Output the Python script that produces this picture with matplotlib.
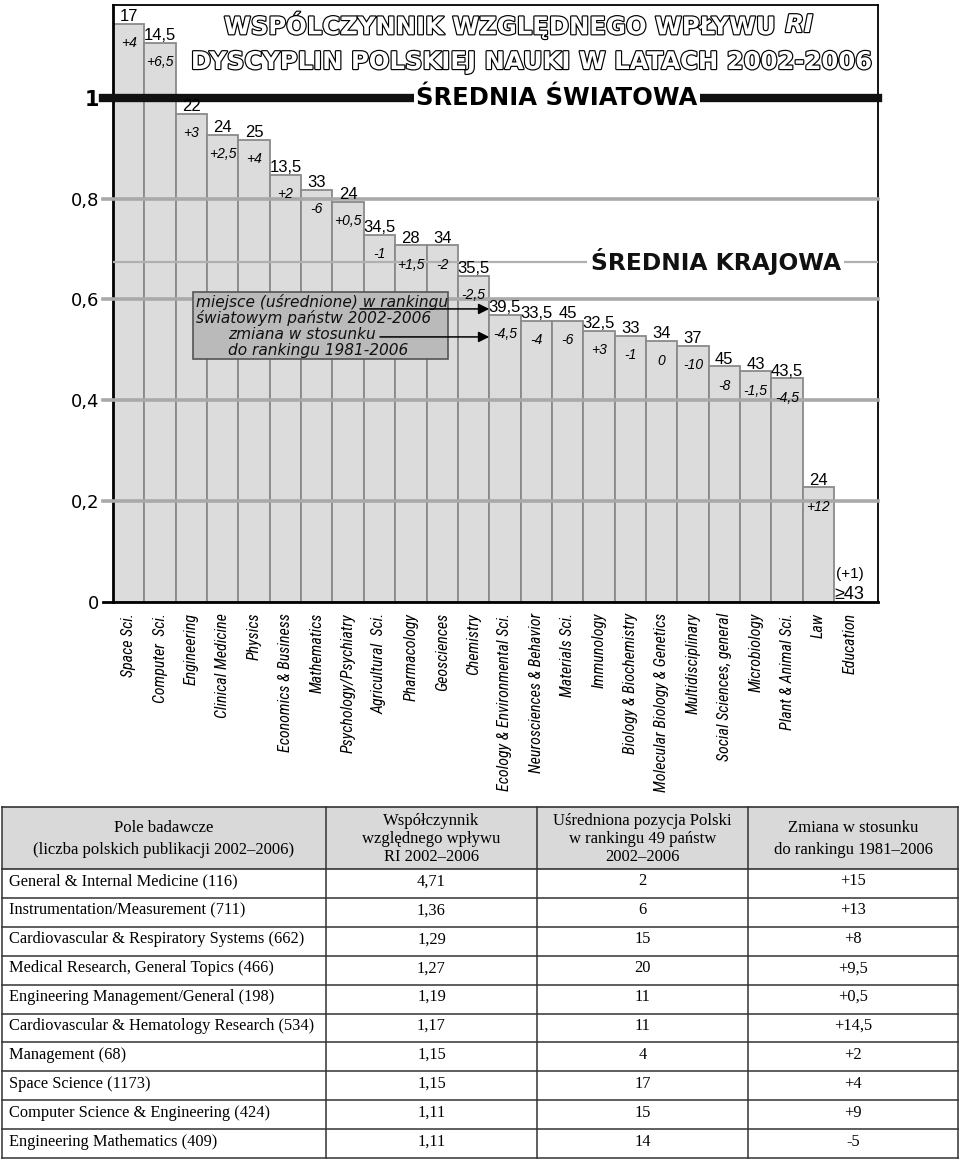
import matplotlib
matplotlib.use('Agg')
import matplotlib.pyplot as plt
import matplotlib.patheffects as pe
from matplotlib.patches import Rectangle
from matplotlib import font_manager
import numpy as np

# ---- wykres: wspolczynnik RI dla dyscyplin ----
disciplines = ['Space Sci.', 'Computer  Sci.', 'Engineering', 'Clinical Medicine', 'Physics',
               'Economics & Business', 'Mathematics', 'Psychology/Psychiatry', 'Agricultural  Sci.',
               'Pharmacology', 'Geosciences', 'Chemistry', 'Ecology & Environmental Sci.',
               'Neurosciences & Behavior', 'Materials Sci.', 'Immunology', 'Biology & Biochemistry',
               'Molecular Biology & Genetics', 'Multidisciplinary', 'Social Sciences, general',
               'Microbiology', 'Plant & Animal Sci.', 'Law', 'Education']
ri_values = [1.147, 1.109, 0.968, 0.926, 0.916, 0.847, 0.817, 0.793, 0.728, 0.707, 0.707, 0.647,
             0.569, 0.557, 0.557, 0.537, 0.528, 0.517, 0.508, 0.467, 0.457, 0.443, 0.227, 0.0]
rank_labels = ['17', '14,5', '22', '24', '25', '13,5', '33', '24', '34,5', '28', '34', '35,5',
               '39,5', '33,5', '45', '32,5', '33', '34', '37', '45', '43', '43,5', '24', '≥43']
change_labels = ['+4', '+6,5', '+3', '+2,5', '+4', '+2', '-6', '+0,5', '-1', '+1,5', '-2', '-2,5',
                 '-4,5', '-4', '-6', '+3', '-1', '0', '-10', '-8', '-1,5', '-4,5', '+12', '(+1)']
y_ticks = [0, 0.2, 0.4, 0.6, 0.8, 1]
y_tick_labels = ['0', '0,2', '0,4', '0,6', '0,8', '1']
world_avg = 1.0
national_avg = 0.675

# ---- tabela ----
table_header = ['Pole badawcze\n(liczba polskich publikacji 2002\u20132006)',
                'Współczynnik\nwzględnego wpływu\nRI 2002\u20132006',
                'Uśredniona pozycja Polski\nw rankingu 49 państw\n2002\u20132006',
                'Zmiana w stosunku\ndo rankingu 1981\u20132006']
table_fields = ['General & Internal Medicine (116)', 'Instrumentation/Measurement (711)',
                'Cardiovascular & Respiratory Systems (662)', 'Medical Research, General Topics (466)',
                'Engineering Management/General (198)', 'Cardiovascular & Hematology Research (534)',
                'Management (68)', 'Space Science (1173)', 'Computer Science & Engineering (424)',
                'Engineering Mathematics (409)']
table_ri = ['4,71', '1,36', '1,29', '1,27', '1,19', '1,17', '1,15', '1,15', '1,11', '1,11']
table_rank = ['2', '6', '15', '20', '11', '11', '4', '17', '15', '14']
table_change = ['+15', '+13', '+8', '+9,5', '+0,5', '+14,5', '+2', '+4', '+9', '-5']

# ---- uklad (piksele) ----
W, H = 960, 1162
ax_left, ax_right, ax_top, ax_bottom = 113, 878, 5, 601.7
px_per_unit = 504
bar_px = 31.35

fig = plt.figure(figsize=(W / 100, H / 100), dpi=100)
fig.patch.set_facecolor('white')
ax = fig.add_axes([ax_left / W, 1 - ax_bottom / H, (ax_right - ax_left) / W, (ax_bottom - ax_top) / H])
ax.set_xlim(-0.5, -0.5 + (ax_right - ax_left) / bar_px)
ax.set_ylim(0, (ax_bottom - ax_top) / px_per_unit)

sans = ['Liberation Sans', 'DejaVu Sans']
wide = ['DejaVu Sans']
# waski krój do podpisow osi x, jesli jest zainstalowany
installed = {f.name for f in font_manager.fontManager.ttflist}
if 'Roboto Condensed' in installed:
    narrow, narrow_size = ['Roboto Condensed', 'Liberation Sans'], 11.5
elif 'Liberation Sans Narrow' in installed:
    narrow, narrow_size = ['Liberation Sans Narrow', 'Liberation Sans'], 11.5
else:
    narrow, narrow_size = ['Liberation Sans', 'DejaVu Sans'], 9.6

x = np.arange(len(disciplines))
ax.bar(x, ri_values, width=1, color='#dcdcdc', edgecolor='#8a8a8a', linewidth=1.3, zorder=2)

# linie siatki z "kreskami" wychodzacymi poza os
ext = -10 / (ax_right - ax_left)
for v in y_ticks[1:-1]:
    ax.axhline(v, xmin=ext, xmax=1, color='#a9a9a9', lw=2.6, clip_on=False, zorder=3)
ax.axhline(0, xmin=ext, xmax=0, color='black', lw=2, clip_on=False, zorder=3)
ax.axhline(national_avg, color='#b0b0b0', lw=1.6, zorder=3)
ax.axhline(world_avg, xmin=ext, xmax=1, color='#111111', lw=6, clip_on=False, zorder=4)

ax.text(0.58, world_avg, 'ŚREDNIA ŚWIATOWA', transform=ax.get_yaxis_transform(),
        ha='center', va='center', fontsize=17.5, fontweight='bold', family=wide, zorder=5,
        bbox=dict(facecolor='white', edgecolor='none', pad=1.5))
ax.text(0.788, national_avg, 'ŚREDNIA KRAJOWA', transform=ax.get_yaxis_transform(),
        ha='center', va='center', fontsize=16.8, fontweight='bold', family=wide, zorder=5,
        color='#111111', bbox=dict(facecolor='white', edgecolor='none', pad=2.5))

# etykiety nad slupkami
for i, (v, r, c) in enumerate(zip(ri_values, rank_labels, change_labels)):
    if v > 0:
        ax.annotate(r, (i, v), xytext=(0, 2), textcoords='offset points', ha='center',
                    va='baseline', fontsize=12, family=sans, zorder=6)
        ax.annotate(c, (i, v), xytext=(0, -14), textcoords='offset points', ha='center',
                    va='center', fontsize=10, style='italic', family=sans, zorder=6)
    else:
        ax.annotate(r, (i, v), xytext=(0, 2), textcoords='offset points', ha='center',
                    va='baseline', fontsize=13, family=sans, zorder=6)
        ax.annotate(c, (i, v), xytext=(0, 17), textcoords='offset points', ha='center',
                    va='baseline', fontsize=11, family=sans, zorder=6)

ax.set_xticks(x, disciplines, rotation=90, fontsize=narrow_size, style='italic', family=narrow)
ax.set_yticks(y_ticks, y_tick_labels, fontsize=13, family=wide)
ax.get_yticklabels()[-1].set_fontweight('bold')
ax.get_yticklabels()[-1].set_fontsize(15)
ax.tick_params(axis='x', length=0, pad=8)
ax.tick_params(axis='y', length=0, pad=10)
for s in ['left', 'bottom']:
    ax.spines[s].set_linewidth(2)
for s in ['top', 'right']:
    ax.spines[s].set_linewidth(1.3)
ax.set_facecolor('white')

# ---- warstwa w pikselach: tytul, legenda, tabela ----
pax = fig.add_axes([0, 0, 1, 1])
pax.set_xlim(0, W)
pax.set_ylim(H, 0)
pax.axis('off')


def to_px(xd, yd):
    return ax_left + (xd + 0.5) * bar_px, ax_bottom - yd * px_per_unit


outline = [pe.withStroke(linewidth=1.7, foreground='black')]
t1 = pax.text(224, 25, 'WSPÓLCZYNNIK WZGLĘDNEGO WPŁYWU', ha='left', va='center', fontsize=17.5,
              fontweight='bold', family=wide, color='white', path_effects=outline)
pax.annotate('RI', xy=(1, 0.5), xycoords=t1, xytext=(7, 0), textcoords='offset points',
             ha='left', va='center', fontsize=17.5, fontweight='bold', style='italic',
             family=wide, color='white', path_effects=outline)
pax.text(531, 62, 'DYSCYPLIN POLSKIEJ NAUKI W LATACH 2002-2006', ha='center', va='center',
         fontsize=17.5, fontweight='bold', family=wide, color='white', path_effects=outline)

# legenda
pax.add_patch(Rectangle((193, 292), 255, 67, facecolor='#bababa', edgecolor='#555555', lw=1.2))
leg_lines = ['miejsce (uśrednione) w rankingu', 'światowym państw 2002-2006',
             'zmiana w stosunku', 'do rankingu 1981-2006']
leg_x = [196, 196, 228, 228]
for k, (txt, lx) in enumerate(zip(leg_lines, leg_x)):
    pax.text(lx, 302 + k * 16.3, txt, ha='left', va='center', fontsize=11.1, style='italic',
             family=wide, color='#111111')
tip_x, tip_y = to_px(11.5, ri_values[12])
pax.annotate('', xy=(tip_x, tip_y - 6), xytext=(360, tip_y - 6),
             arrowprops=dict(arrowstyle='-|>', color='black', lw=1.1, shrinkA=0, shrinkB=0,
                             mutation_scale=16))
pax.annotate('', xy=(tip_x, tip_y + 22), xytext=(380, tip_y + 22),
             arrowprops=dict(arrowstyle='-|>', color='black', lw=1.1, shrinkA=0, shrinkB=0,
                             mutation_scale=16))

# tabela
col_x = [2, 326, 537, 748, 958]
t_top, head_bot, row_h = 807, 869, 28.9
n = len(table_fields)
t_bot = head_bot + n * row_h
serif = ['Liberation Serif', 'DejaVu Serif']
pax.add_patch(Rectangle((col_x[0], t_top), col_x[-1] - col_x[0], head_bot - t_top,
                        facecolor='#d9d9d9', edgecolor='none'))
pax.plot([col_x[0], col_x[-1]], [t_top, t_top], color='#333333', lw=1.2)
pax.plot([col_x[0], col_x[-1]], [head_bot, head_bot], color='#333333', lw=1.2)
for r in range(1, n + 1):
    pax.plot([col_x[0], col_x[-1]], [head_bot + r * row_h] * 2, color='#333333', lw=1.1)
for cx in col_x:
    pax.plot([cx, cx], [t_top, t_bot], color='#333333', lw=1.1)

head_spacing = [1.45, 1.2, 1.2, 1.45]
for j, txt in enumerate(table_header):
    pax.text((col_x[j] + col_x[j + 1]) / 2, (t_top + head_bot) / 2 + 1, txt, ha='center',
             va='center', fontsize=12, family=serif, linespacing=head_spacing[j])

for r in range(n):
    yc = head_bot + (r + 0.5) * row_h - 2
    pax.text(col_x[0] + 7, yc, table_fields[r], ha='left', va='center', fontsize=11.8, family=serif)
    for j, vals in enumerate([table_ri, table_rank, table_change], start=1):
        pax.text((col_x[j] + col_x[j + 1]) / 2, yc, vals[r], ha='center', va='center',
                 fontsize=11.8, family=serif)

fig.savefig('out.png', dpi=100, facecolor='white')
